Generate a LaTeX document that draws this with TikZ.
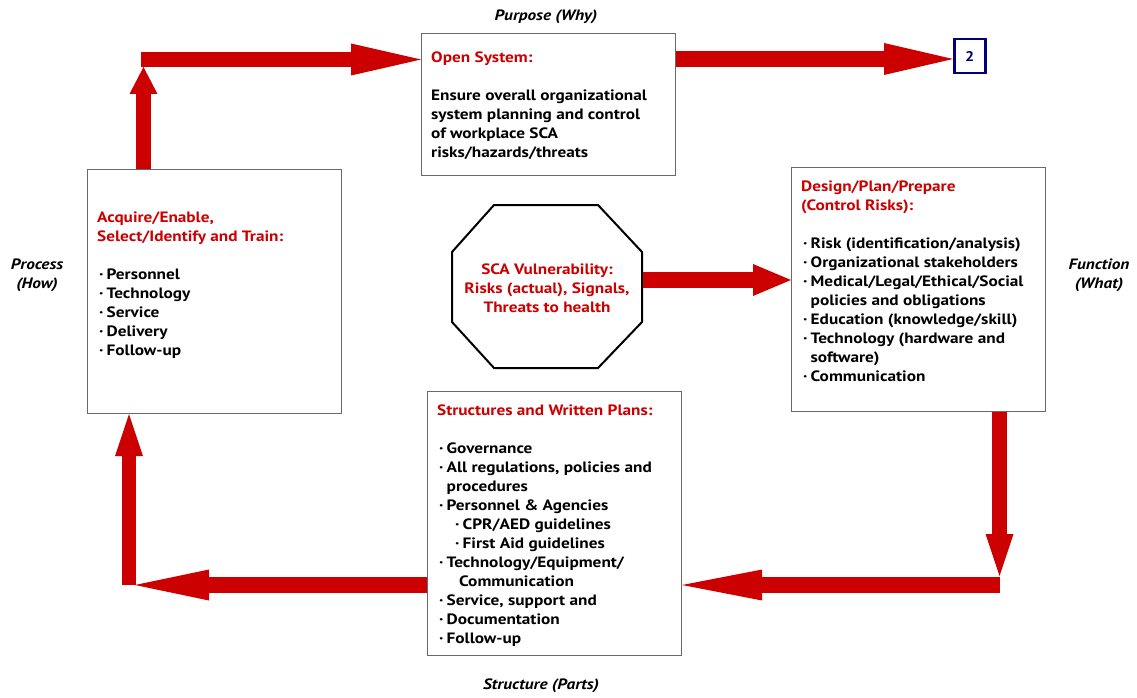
\documentclass[tikz,border=0pt]{standalone}
\usepackage{fontspec}
\setmainfont{PT Sans}[FakeStretch=1.15]
\usetikzlibrary{arrows.meta}
\definecolor{ared}{RGB}{204,0,0}
\definecolor{navyb}{RGB}{0,0,128}
\definecolor{bgray}{RGB}{105,105,105}
\newcommand{\bu}{\hspace*{2pt}\makebox[7.5pt][l]{·}}
\newcommand{\ct}{\hspace*{9.5pt}}
\begin{document}
\begin{tikzpicture}[x=1pt,y=-1pt,
  box/.style={draw=bgray, line width=1.1pt, fill=white, inner sep=0pt, anchor=north west, minimum width=254pt},
  txt/.style={anchor=base west, inner sep=0pt, font=\bfseries\fontsize{15}{19}\selectfont},
  lab/.style={inner sep=0pt, anchor=base, font=\bfseries\itshape\fontsize{15}{19}\selectfont},
  redarr/.style n args={3}{draw=ared, line width=#1, -{Triangle[width=#2,length=#3,line width=0pt]}}
]
\useasboundingbox (0,0) rectangle (1137,698);

% boxes
\node[box, minimum height=142pt] (open) at (421,33) {};
\node[box, minimum height=244pt] (acq) at (87,169) {};
\node[box, minimum height=244pt] (des) at (791,167) {};
\node[box, minimum height=264pt] (str) at (427,391) {};
\node[draw=navyb, line width=2.5pt, inner sep=0pt, minimum width=31pt, minimum height=34pt, anchor=north west,
      font=\bfseries\fontsize{14}{16}\selectfont, text=navyb] (b2) at (953,38) {2};

% octagon
\draw[line width=2pt, line join=miter] (452,252)--(494,205)--(598,205)--(642,252)--(642,322)--(598,368)--(494,368)--(452,322)--cycle;
\node[txt, anchor=base, text=ared] (oct) at (547,274)
  {\parbox[t]{190pt}{\centering SCA Vulnerability:\\Risks (actual), Signals,\\Threats to health}};

% texts
\node[txt] (opent) at (431,63) {\parbox[t]{240pt}{\raggedright
  \textcolor{ared}{Open System:}\\[19pt]
  Ensure overall organizational\\
  system planning and control\\
  of workplace SCA\\
  risks/hazards/threats}};

\node[txt] (acqt) at (97,222) {\parbox[t]{240pt}{\raggedright
  \textcolor{ared}{Acquire/Enable,}\\
  \textcolor{ared}{Select/Identify and Train:}\\[19pt]
  \bu Personnel\\
  \bu Technology\\
  \bu Service\\
  \bu Delivery\\
  \bu Follow-up}};

\node[txt] (dest) at (801,191) {\parbox[t]{240pt}{\raggedright
  \textcolor{ared}{Design/Plan/Prepare}\\
  \textcolor{ared}{(Control Risks):}\\[19pt]
  \bu Risk (identification/analysis)\\
  \bu Organizational stakeholders\\
  \bu Medical/Legal/Ethical/Social\\
  \ct policies and obligations\\
  \bu Education (knowledge/skill)\\
  \bu Technology (hardware and\\
  \ct software)\\
  \bu Communication}};

\node[txt] (strt) at (437,415) {\parbox[t]{240pt}{\raggedright
  \textcolor{ared}{Structures and Written Plans:}\\[19pt]
  \bu Governance\\
  \bu All regulations, policies and\\
  \ct procedures\\
  \bu Personnel \& Agencies\\
  \hspace*{16pt}\bu CPR/AED guidelines\\
  \hspace*{16pt}\bu First Aid guidelines\\
  \bu Technology/Equipment/\\
  \hspace*{22pt}Communication\\
  \bu Service, support and\\
  \bu Documentation\\
  \bu Follow-up}};

% side labels
\node[lab] (purpose) at (546,21) {Purpose (Why)};
\node[lab] (structure) at (541,689) {Structure (Parts)};
\node[lab] (process) at (37,269) {\parbox[t]{80pt}{\centering Process\\(How)}};
\node[lab] (function) at (1099,269) {\parbox[t]{80pt}{\centering Function\\(What)}};

% connector points
\coordinate (c1) at (143.5,67);
\coordinate (c2) at (141,59.5);
\coordinate (c3) at (676,59);
\coordinate (c4) at (643,280);
\coordinate (c5) at (999.5,576);
\coordinate (c6) at (1000,585);
\coordinate (c7) at (135,585);
\coordinate (c8) at (129,585);

% arrows
\draw[redarr={15pt}{28pt}{27pt}] (acq.north -| c1) -- (c1);
\draw[redarr={15pt}{32pt}{70pt}] (c2) -- (c2 -| open.west);
\draw[redarr={16pt}{32pt}{69pt}] (c3) -- (c3 -| b2.west);
\draw[redarr={16pt}{32pt}{38pt}] (c4) -- (c4 -| des.west);
\draw[redarr={15pt}{28pt}{42pt}] (des.south -| c5) -- (c5);
\draw[redarr={16pt}{31pt}{80pt}] (c6) -- (c6 -| str.east);
\draw[redarr={16pt}{31pt}{74pt}] (c7 -| str.west) -- (c7);
\draw[redarr={14pt}{28pt}{42pt}] (c8) -- (c8 |- acq.south);
\end{tikzpicture}
\end{document}
